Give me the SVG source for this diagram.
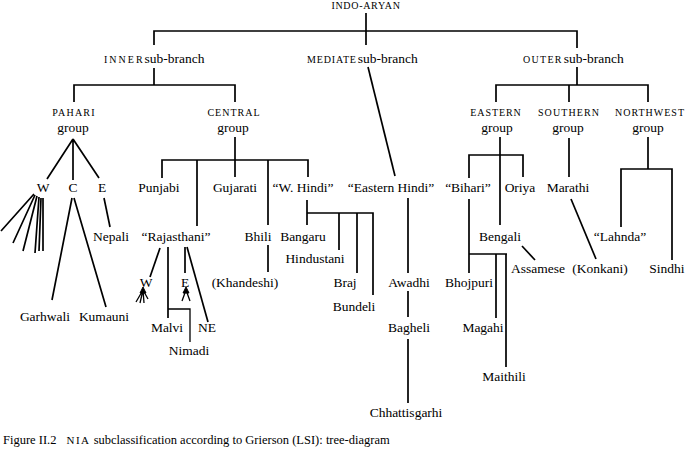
<svg xmlns="http://www.w3.org/2000/svg" width="685" height="453" viewBox="0 0 685 453">
<style>
text{font-family:"Liberation Serif","Times New Roman",serif;fill:#000;font-size:13.5px}
.m{text-anchor:middle}
.sc{font-size:10px}
#connectors path{fill:none;stroke:#000;stroke-width:1.7;stroke-linecap:butt}
.cap{font-size:12.5px}
</style>
<rect width="685" height="453" fill="#fff"/>
<g id="connectors">
<path d="M366 13V45"/>
<path d="M154 45V31H577V48"/>
<path d="M154 68V85"/>
<path d="M74 102V85H235V102"/>
<path d="M368 67L395 176"/>
<path d="M577 67V85"/>
<path d="M496 102V85H648V102"/>
<path d="M569 85V102"/>
<path d="M73 139L47 179M73 139V180M73 139L99 178"/>
<path d="M34 194L1 231M35 195L13 243M37 196L23 251M39 197L35 253M41 198L39 251M43 198L43 251"/>
<path d="M72 198L52 300M74 198L106 307"/>
<path d="M104 198L110 227"/>
<path d="M235 137V160"/>
<path d="M162 178V160H308V177"/>
<path d="M197 160V226M235 160V177M268 160V225"/>
<path d="M160 248L150 277"/>
<path d="M168 247V318"/>
<path d="M168 309H190V342" style="stroke-width:1.3"/>
<path d="M185 247V273"/>
<path d="M187 247L208 322"/>
<path d="M143 290L136 302M143 290L140 303M143 290L144 303M143 290L148 299" style="stroke-width:1.3"/>
<path d="M186 290L182 301M186 290L190 301" style="stroke-width:1.3"/>
<path d="M268 245V272"/>
<path d="M307 200V225"/>
<path d="M307 213H373V295"/>
<path d="M339 213V250M357 213V273"/>
<path d="M408 198V273M408 291V317M408 339V403"/>
<path d="M500 137V225"/>
<path d="M469 178V155H523V177"/>
<path d="M469 199V273"/>
<path d="M469 254H507M496 254V318M506 254V367"/>
<path d="M522 246L535 260"/>
<path d="M569 138V177"/>
<path d="M571 199L596 259"/>
<path d="M648 137V169"/>
<path d="M621 227V169H672V260"/>
<path d="M143 287L140 293L146 293Z" style="fill:#000;stroke-width:1"/>
<path d="M186 287L183 293L189 293Z" style="fill:#000;stroke-width:1"/>
</g>
<g id="indo-aryan"><text class="m sc" x="366" y="9" style="letter-spacing:0.7px">INDO-ARYAN</text></g>
<g id="inner"><text x="104" y="63"><tspan class="sc" style="letter-spacing:2px">INNER</tspan><tspan>sub-branch</tspan></text></g>
<g id="mediate"><text x="307" y="63"><tspan class="sc" style="letter-spacing:0.85px">MEDIATE</tspan><tspan dx="1">sub-branch</tspan></text></g>
<g id="outer"><text x="523" y="63"><tspan class="sc" style="letter-spacing:1.3px">OUTER</tspan><tspan dx="1">sub-branch</tspan></text></g>
<g id="pahari"><text class="m sc" x="74" y="116" style="letter-spacing:1.2px">PAHARI</text><text class="m" x="73" y="132">group</text></g>
<g id="central"><text class="m sc" x="234" y="116" style="letter-spacing:1px">CENTRAL</text><text class="m" x="233" y="132">group</text></g>
<g id="eastern"><text class="m sc" x="496" y="116" style="letter-spacing:0.9px">EASTERN</text><text class="m" x="497" y="132">group</text></g>
<g id="southern"><text class="m sc" x="569" y="116" style="letter-spacing:1.1px">SOUTHERN</text><text class="m" x="568" y="132">group</text></g>
<g id="northwest"><text class="m sc" x="650" y="116" style="letter-spacing:1px">NORTHWEST</text><text class="m" x="648" y="132">group</text></g>
<g id="pw"><text class="m" x="43" y="192">W</text></g>
<g id="pc"><text class="m" x="73" y="192">C</text></g>
<g id="pe"><text class="m" x="102" y="192">E</text></g>
<g id="nepali"><text class="m" x="111" y="241">Nepali</text></g>
<g id="garhwali"><text class="m" x="45" y="321">Garhwali</text></g>
<g id="kumauni"><text class="m" x="104" y="321">Kumauni</text></g>
<g id="punjabi"><text class="m" x="159" y="192">Punjabi</text></g>
<g id="gujarati"><text class="m" x="235" y="192">Gujarati</text></g>
<g id="whindi"><text class="m" x="303" y="192">“W. Hindi”</text></g>
<g id="easternhindi"><text class="m" x="391" y="192">“Eastern Hindi”</text></g>
<g id="bihari"><text class="m" x="468" y="192">“Bihari”</text></g>
<g id="oriya"><text class="m" x="520" y="192">Oriya</text></g>
<g id="marathi"><text class="m" x="568" y="192">Marathi</text></g>
<g id="rajasthani"><text class="m" x="176" y="241">“Rajasthani”</text></g>
<g id="bhili"><text class="m" x="258" y="241">Bhili</text></g>
<g id="bangaru"><text class="m" x="303" y="241">Bangaru</text></g>
<g id="hindustani"><text class="m" x="315" y="263">Hindustani</text></g>
<g id="braj"><text class="m" x="345" y="287">Braj</text></g>
<g id="bundeli"><text class="m" x="354" y="311">Bundeli</text></g>
<g id="rw"><text class="m" x="146" y="287">W</text></g>
<g id="re"><text class="m" x="185" y="287">E</text></g>
<g id="khandeshi"><text class="m" x="245" y="287">(Khandeshi)</text></g>
<g id="malvi"><text class="m" x="167" y="332">Malvi</text></g>
<g id="ne"><text class="m" x="207" y="332">NE</text></g>
<g id="nimadi"><text class="m" x="189" y="355">Nimadi</text></g>
<g id="awadhi"><text class="m" x="409" y="287">Awadhi</text></g>
<g id="bagheli"><text class="m" x="409" y="332">Bagheli</text></g>
<g id="chhattisgarhi"><text class="m" x="406" y="417">Chhattisgarhi</text></g>
<g id="bengali"><text class="m" x="500" y="241">Bengali</text></g>
<g id="assamese"><text class="m" x="538" y="273">Assamese</text></g>
<g id="bhojpuri"><text class="m" x="469" y="287">Bhojpuri</text></g>
<g id="magahi"><text class="m" x="483" y="332">Magahi</text></g>
<g id="maithili"><text class="m" x="504" y="381">Maithili</text></g>
<g id="konkani"><text class="m" x="600" y="273">(Konkani)</text></g>
<g id="lahnda"><text class="m" x="620" y="241">“Lahnda”</text></g>
<g id="sindhi"><text class="m" x="667" y="273">Sindhi</text></g>
<g id="caption"><text class="cap" x="3" y="444">Figure II.2<tspan dx="10" class="sc" style="font-size:11px;letter-spacing:1.5px">NIA</tspan><tspan> subclassification according to Grierson (LSI): tree-diagram</tspan></text></g>
</svg>
